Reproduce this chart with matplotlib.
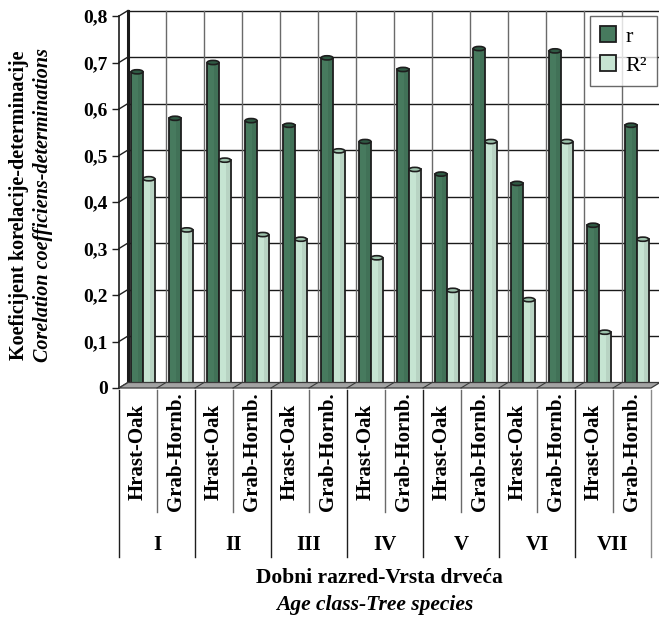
import matplotlib
matplotlib.use('Agg')
import matplotlib.pyplot as plt
import matplotlib.transforms as mtransforms
from matplotlib.patches import Polygon, Ellipse, Patch
from matplotlib.lines import Line2D
import numpy as np

# correlation (r) and determination (R^2) coefficients by age class and species
age_classes = ['I', 'II', 'III', 'IV', 'V', 'VI', 'VII']
species = ['Hrast-Oak', 'Grab-Hornb.']
r_vals = [0.68, 0.58, 0.70, 0.575, 0.565, 0.71, 0.53, 0.685, 0.46, 0.73, 0.44, 0.725, 0.35, 0.565]
r2_vals = [0.45, 0.34, 0.49, 0.33, 0.32, 0.51, 0.28, 0.47, 0.21, 0.53, 0.19, 0.53, 0.12, 0.32]
yticks = [0, 0.1, 0.2, 0.3, 0.4, 0.5, 0.6, 0.7, 0.8]

plt.rcParams['font.family'] = 'Liberation Serif'

W, H = 659, 623
dark = '#477a5e'
light = '#c6e4d2'
edge = '#1e1e1e'

fig = plt.figure(figsize=(W / 100, H / 100), dpi=100)
ax = fig.add_axes([119 / W, 1 - 388 / H, (651 - 119) / W, (388 - 16) / H])
ncol = len(r_vals)
ax.set_xlim(0, ncol)
ax.set_ylim(0, 0.8)
ax.patch.set_visible(False)
for s in ['top', 'right', 'bottom']:
    ax.spines[s].set_visible(False)
ax.spines['left'].set_color(edge)
ax.spines['left'].set_linewidth(1.2)
ax.set_xticks([])
ax.set_yticks(yticks)
ax.set_yticklabels(['0' if t == 0 else ('%.1f' % t).replace('.', ',') for t in yticks],
                   fontsize=14, fontweight='bold')
ax.tick_params(axis='y', length=5, width=1, color=edge, pad=3)

# back wall sits a few pixels up and to the right of the front axis
back = ax.transData + mtransforms.ScaledTranslation(9 / 100, 5.5 / 100, fig.dpi_scale_trans)
to_fig = fig.transFigure.inverted()


def fpt(trans, x, y):
    return to_fig.transform(trans.transform((x, y)))


for t in yticks[1:]:
    ax.plot([0, ncol], [t, t], color='#1a1a1a', lw=1.0, transform=back, zorder=1, clip_on=False)
for i in range(1, ncol + 1):
    ax.plot([i, i], [0, 0.8], color='#6a6a6a', lw=1.0, transform=back, zorder=1, clip_on=False)
ax.plot([0, 0], [0, 0.8], color='#1a1a1a', lw=2.2, transform=back, zorder=1, clip_on=False)

# diagonal links between the front axis and the back wall
for t in yticks:
    a = fpt(ax.transData, 0, t)
    b = fpt(back, 0, t)
    fig.add_artist(Line2D([a[0], b[0]], [a[1], b[1]], color=edge, lw=1.0))

# floor
pts = [fpt(ax.transData, 0, 0), fpt(ax.transData, ncol, 0), fpt(back, ncol, 0), fpt(back, 0, 0)]
fig.add_artist(Polygon(pts, closed=True, facecolor='#a3a3a3', edgecolor='#3a3a3a', lw=0.9, zorder=2))
for i in range(1, ncol):
    a = fpt(ax.transData, i, 0)
    b = fpt(back, i, 0)
    fig.add_artist(Line2D([a[0], b[0]], [a[1], b[1]], color='#3a3a3a', lw=0.8, zorder=2))

# bars with a cap ellipse for the cylinder look
bw = 0.31
x = np.arange(ncol)
for xs, vals, col, cap in [(x + 0.475, r_vals, dark, '#2f5a43'), (x + 0.785, r2_vals, light, '#9cc2ab')]:
    ax.bar(xs, vals, bw, color=col, edgecolor=edge, linewidth=1.3, zorder=5)
    ax.bar(xs + bw * 0.25, vals, bw * 0.3, color='black', alpha=0.07, linewidth=0, zorder=6)
    for xc, v in zip(xs, vals):
        ax.add_patch(Ellipse((xc, v), bw, 0.009, facecolor=cap, edgecolor=edge, lw=1.2, zorder=7))

# category table under the floor
bt = mtransforms.blended_transform_factory(ax.transData, fig.transFigure)


def fy(p):
    return 1 - p / H


for i in range(ncol + 1):
    if i % 2 == 0:
        y0 = 557
        c = '#8a8a8a' if i == ncol else edge
    else:
        y0 = 512
        c = '#6a6a6a'
    ax.plot([i, i], [fy(390), fy(y0)], color=c, lw=1.0, transform=bt, clip_on=False)

for i in range(ncol):
    ax.text(i + 0.5, fy(452), species[i % 2], rotation=90, ha='center', va='center',
            fontsize=15, fontweight='bold', transform=bt)
for g, name in enumerate(age_classes):
    ax.text(2 * g + 1, fy(545), name, ha='center', va='center', fontsize=15,
            fontweight='bold', transform=bt)

# axis titles
fig.text(19 / W, fy(205), 'Koeficijent korelacije-determinacije', rotation=90,
         ha='center', va='center', fontsize=14.5, fontweight='bold')
fig.text(43 / W, fy(205), 'Corelation coefficiens-determinations', rotation=90,
         ha='center', va='center', fontsize=14.5, fontweight='bold', style='italic')
fig.text(379 / W, fy(578), 'Dobni razred-Vrsta drveća', ha='center', va='center',
         fontsize=15.5, fontweight='bold')
fig.text(375 / W, fy(605), 'Age class-Tree species', ha='center', va='center',
         fontsize=15.5, fontweight='bold', style='italic')

handles = [Patch(facecolor=dark, edgecolor=edge, lw=1.3, label='r'),
           Patch(facecolor=light, edgecolor=edge, lw=1.3, label='R²')]
leg = fig.legend(handles=handles, loc='upper right', bbox_to_anchor=(657 / W, fy(16)),
                 prop={'size': 16}, frameon=True, fancybox=False, edgecolor='#444444',
                 handlelength=0.7, handleheight=0.7, handletextpad=0.45,
                 borderpad=0.45, labelspacing=0.4, borderaxespad=0)
leg.get_frame().set_linewidth(1.0)

fig.savefig('out.png', dpi=100)
